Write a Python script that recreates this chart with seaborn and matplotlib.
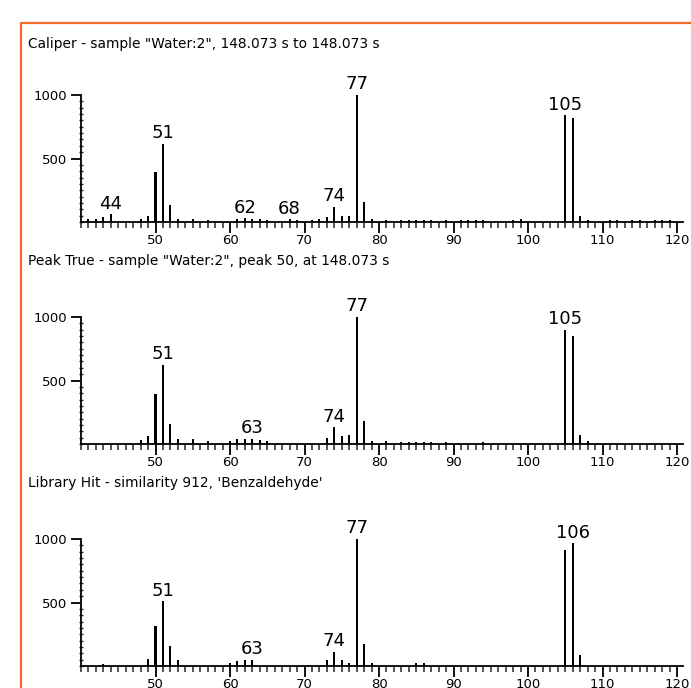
import matplotlib
matplotlib.use("Agg")
import matplotlib.pyplot as plt
import seaborn as sns
import pandas as pd
from matplotlib.lines import Line2D
from matplotlib.ticker import MultipleLocator, FixedLocator

# ---------------- data ----------------
caliper_title = 'Caliper - sample "Water:2", 148.073 s to 148.073 s'
caliper_mz = [41, 42, 43, 44, 48, 49, 50, 51, 52, 53, 55, 57, 61, 62, 63, 64, 65, 68, 69,
              71, 72, 73, 74, 75, 76, 77, 78, 79, 81, 83, 84, 85, 86, 87, 89, 91, 92, 93,
              94, 98, 99, 105, 106, 107, 108, 111, 112, 114, 115, 117, 118, 119]
caliper_int = [20, 25, 38, 62, 22, 48, 390, 618, 135, 25, 25, 15, 20, 28, 25, 20, 15, 20, 12,
               15, 20, 38, 122, 48, 48, 1000, 160, 20, 15, 18, 18, 18, 18, 18, 15, 18, 15, 18,
               15, 15, 20, 840, 817, 48, 12, 18, 18, 18, 15, 18, 18, 18]
caliper_labels = [44, 51, 62, 68, 74, 77, 105]

peak_title = 'Peak True - sample "Water:2", peak 50, at 148.073 s'
peak_mz = [48, 49, 50, 51, 52, 53, 55, 57, 60, 61, 62, 63, 64, 65, 73, 74, 75, 76, 77, 78,
           79, 81, 83, 84, 85, 86, 87, 89, 94, 105, 106, 107, 108]
peak_int = [28, 60, 395, 622, 160, 36, 36, 23, 22, 36, 40, 40, 30, 23, 47, 132, 60, 72, 1000, 182,
            20, 20, 18, 18, 18, 18, 18, 18, 18, 900, 853, 74, 24]
peak_labels = [51, 63, 74, 77, 105]

lib_title = "Library Hit - similarity 912, 'Benzaldehyde'"
lib_mz = [43, 49, 50, 51, 52, 53, 60, 61, 62, 63, 73, 74, 75, 76, 77, 78, 79, 85, 86,
          105, 106, 107]
lib_int = [18, 58, 313, 510, 158, 45, 24, 37, 50, 50, 45, 110, 45, 24, 1000, 171, 24, 24, 24,
           913, 966, 84]
lib_labels = [51, 63, 74, 77, 106]

x_ticks = [50, 60, 70, 80, 90, 100, 110, 120]
y_ticks = [500, 1000]

panels = [
    (caliper_title, caliper_mz, caliper_int, caliper_labels),
    (peak_title, peak_mz, peak_int, peak_labels),
    (lib_title, lib_mz, lib_int, lib_labels),
]

# ---------------- style ----------------
sns.set_style("ticks")
plt.rcParams['font.family'] = ['DejaVu Sans']

W, H = 691, 688
fig = plt.figure(figsize=(W / 100, H / 100), dpi=100)
fig.patch.set_facecolor("white")

# axes placement (pixel: top of 1000-level, baseline)
ax_pix = [(95, 222), (317, 444), (539, 666)]
title_y = [44, 261, 483]
left_px, right_px = 81, 683

for (title, mz, inten, labels), (top, base), ty in zip(panels, ax_pix, title_y):
    ax = fig.add_axes([left_px / W, 1 - base / H, (right_px - left_px) / W, (base - top) / H])
    ax.set_facecolor("none")
    df = pd.DataFrame({"mz": mz, "intensity": inten})
    sns.barplot(data=df, x="mz", y="intensity", native_scale=True, width=0.27,
                color="black", saturation=1, linewidth=0, ax=ax)
    ax.set_xlim(40, 120.8)
    ax.set_ylim(0, 1000)
    ax.set_xlabel("")
    ax.set_ylabel("")
    for s in ["top", "right"]:
        ax.spines[s].set_visible(False)
    for s in ["left", "bottom"]:
        ax.spines[s].set_linewidth(1.3)
        ax.spines[s].set_color("black")
    ax.xaxis.set_major_locator(FixedLocator(x_ticks))
    ax.xaxis.set_minor_locator(MultipleLocator(1))
    ax.yaxis.set_major_locator(FixedLocator(y_ticks))
    ax.yaxis.set_minor_locator(MultipleLocator(50))
    ax.tick_params(axis="both", which="both", bottom=True, left=True, top=False, right=False)
    ax.tick_params(axis="x", which="major", direction="out", length=8, width=1.3,
                   labelsize=9.5, pad=1, colors="black")
    ax.tick_params(axis="x", which="minor", direction="out", length=4, width=1.1)
    ax.tick_params(axis="y", which="major", direction="out", length=7, width=1.3,
                   labelsize=9.5, pad=3, colors="black")
    ax.tick_params(axis="y", which="minor", direction="inout", length=3, width=1.0)
    ax.set_xticklabels([str(t) for t in x_ticks])
    ax.set_yticklabels([str(t) for t in y_ticks])

    lookup = dict(zip(mz, inten))
    for m in labels:
        ax.annotate(str(m), xy=(m, lookup[m]), xytext=(0, 4), textcoords="offset points",
                    ha="center", va="baseline", fontsize=13, annotation_clip=False,
                    color="black")

    fig.text(28 / W, 1 - ty / H, title, ha="left", va="center", fontsize=9.9, color="black")

# orange frame (left and top edges)
orange = "#f26b2d"
fig.add_artist(Line2D([20.5 / W, 20.5 / W], [-0.05, 1 - 23 / H], color=orange, lw=1.6,
                      transform=fig.transFigure))
fig.add_artist(Line2D([20.5 / W, 1.05], [1 - 23 / H, 1 - 23 / H], color=orange, lw=1.6,
                      transform=fig.transFigure))

fig.savefig("out.png", dpi=100, facecolor="white")
